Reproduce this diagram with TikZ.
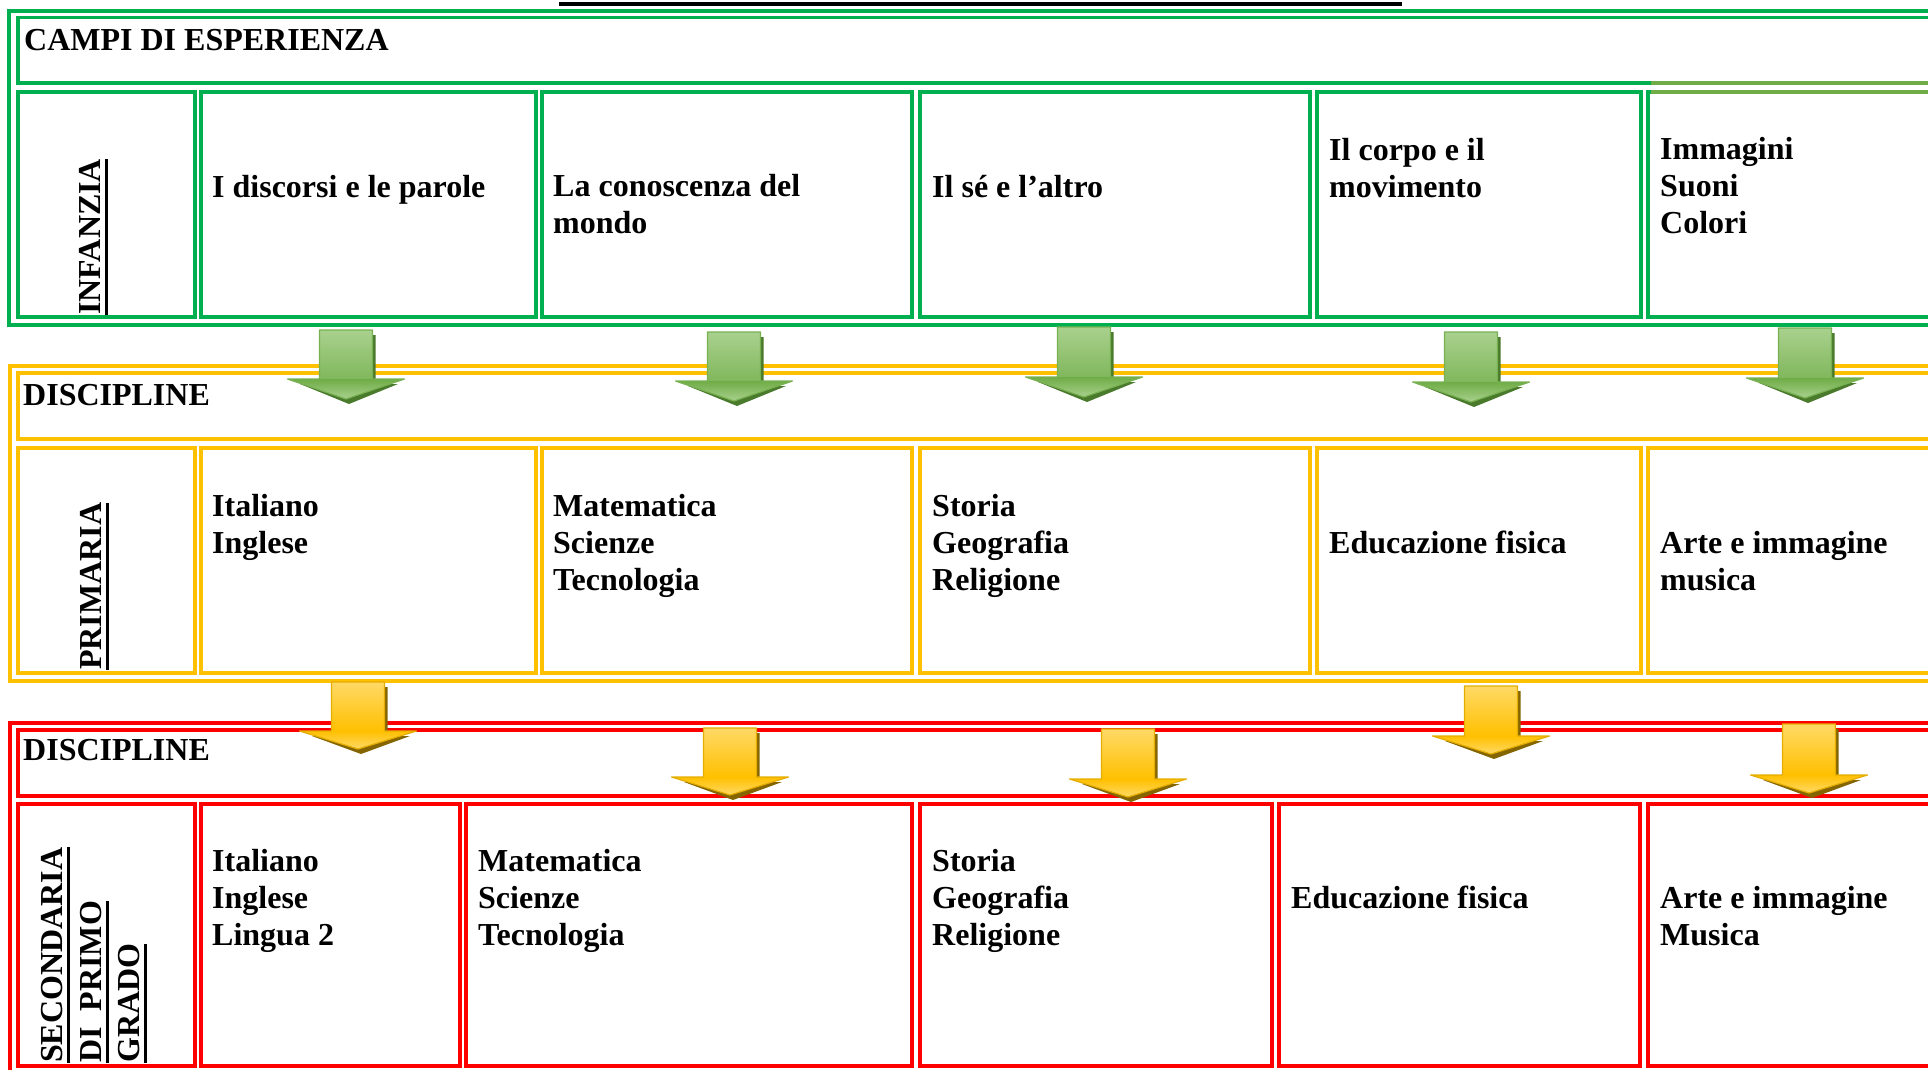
\documentclass[tikz,border=0pt]{standalone}
\usepackage{fontspec}
\setmainfont{Liberation Serif}
\usetikzlibrary{positioning}
\definecolor{Cg}{HTML}{00B050}
\definecolor{Co}{HTML}{70AD47}
\definecolor{Cy}{HTML}{FFC000}
\definecolor{Cr}{HTML}{FF0000}
\definecolor{Ag1}{HTML}{A9D18E}
\definecolor{Ag2}{HTML}{6FAC46}
\definecolor{Ag3}{HTML}{4A7A2C}
\definecolor{Ay1}{HTML}{FFD966}
\definecolor{Ay2}{HTML}{FFC000}
\definecolor{Ay3}{HTML}{846500}

\tikzset{
  box/.style={line width=3.5pt},
  lbl/.style={anchor=base west, inner sep=0pt, align=left,
    font=\fontsize{32pt}{36.7pt}\selectfont\bfseries},
  vlbl/.style={lbl, rotate=90},
  uline/.style={line width=3pt},
  gshaft/.style={top color=Ag1, middle color=Ag2, bottom color=Ag2!70!Ag1},
  ghead/.style={top color=Ag2, bottom color=Ag1},
  yshaft/.style={top color=Ay1, middle color=Ay2, bottom color=Ay2},
  yhead/.style={top color=Ay2, bottom color=Ay1},
}

\begin{document}
\begin{tikzpicture}[x=1pt, y=-1pt]

\useasboundingbox (0,0) rectangle (1928,1069);
\clip (0,0) rectangle (1928,1069);

% rule of the cut title
\draw[line width=3.5pt] (559,4) -- (1402,4);

% green section: campi di esperienza
\draw[box, Cg] (9,11) rectangle (1940,325);
\draw[box, Cg] (18,17.5) rectangle (1940,83);
\foreach \xa/\xb in {18/195, 201/536, 542/912, 920/1310, 1317/1641, 1648/1940}
  \draw[box, Cg] (\xa,92) rectangle (\xb,317);
\draw[box, Co] (1651,83) -- (1940,83);
\draw[box, Co] (1651,92) -- (1940,92);

\node[lbl] (campi) at (24,50) {CAMPI DI ESPERIENZA};
\node[vlbl] (infanzia) at (100,315) {INFANZIA};
\draw[uline] ([xshift=6pt]infanzia.base west) -- ([xshift=6pt]infanzia.base east);
\node[lbl] (discorsi) at (212,197) {I discorsi e le parole};
\node[lbl] (mondo) at (553,233) {La conoscenza del\\mondo};
\node[lbl] (altro) at (932,197) {Il sé e l’altro};
\node[lbl] (corpo) at (1329,197) {Il corpo e il\\movimento};
\node[lbl] (immagini) at (1660,233) {Immagini\\Suoni\\Colori};

% yellow section: primaria
\draw[box, Cy] (10,366) rectangle (1940,681);
\draw[box, Cy] (18,373) rectangle (1940,439);
\foreach \xa/\xb in {18/195, 201/536, 542/912, 920/1310, 1317/1641, 1648/1940}
  \draw[box, Cy] (\xa,448) rectangle (\xb,673);

\node[lbl] (disc_pri) at (23,405) {DISCIPLINE};
\node[vlbl] (primaria) at (101,670) {PRIMARIA};
\draw[uline] ([xshift=6pt]primaria.base west) -- ([xshift=6pt]primaria.base east);
\node[lbl] (ita_pri) at (212,553) {Italiano\\Inglese};
\node[lbl] (mat_pri) at (553,590) {Matematica\\Scienze\\Tecnologia};
\node[lbl] (sto_pri) at (932,590) {Storia\\Geografia\\Religione};
\node[lbl] (edu_pri) at (1329,553) {Educazione fisica};
\node[lbl] (arte_pri) at (1660,590) {Arte e immagine\\musica};

% red section: secondaria
\draw[box, Cr] (10,723) rectangle (1940,1090);
\draw[box, Cr] (18,730) rectangle (1940,796);
\foreach \xa/\xb in {18/195, 201/460, 466/912, 920/1272, 1279/1640, 1648/1940}
  \draw[box, Cr] (\xa,804) rectangle (\xb,1066);

\node[lbl] (disc_sec) at (23,760) {DISCIPLINE};
\node[vlbl] (sec1) at (62,1063) {SECONDARIA};
\node[vlbl] (sec2) at (101,1063) {DI\ \ PRIMO};
\node[vlbl] (sec3) at (139,1063) {GRADO};
\foreach \n in {sec1, sec2, sec3}
  \draw[uline] ([xshift=6pt]\n.base west) -- ([xshift=6pt]\n.base east);
\node[lbl] (ita_sec) at (212,945) {Italiano\\Inglese\\Lingua 2};
\node[lbl] (mat_sec) at (478,945) {Matematica\\Scienze\\Tecnologia};
\node[lbl] (sto_sec) at (932,945) {Storia\\Geografia\\Religione};
\node[lbl] (edu_sec) at (1291,908) {Educazione fisica};
\node[lbl] (arte_sec) at (1660,945) {Arte e immagine\\Musica};

% green arrows
\foreach \cx/\ty/\py in {346/330/399, 734/332/401, 1084/327/397, 1471/332/402, 1805/328/398}{
  \fill[Ag3] (\cx-23.5,\ty+5) -- (\cx+29.5,\ty+5) -- (\cx+29.5,\py-15) -- (\cx+52,\py-15)
    -- (\cx+3,\py+5) -- (\cx-46,\py-15) -- (\cx-23.5,\py-15) -- cycle;
  \shade[gshaft] (\cx-26.5,\ty) rectangle (\cx+26.5,\py-20);
  \shade[ghead] (\cx-58.5,\py-20) -- (\cx+58.5,\py-20) -- (\cx,\py) -- cycle;
  \draw[Ag2!85!Ag1, line width=1.2pt, line join=round] (\cx-26.5,\ty) -- (\cx+26.5,\ty) -- (\cx+26.5,\py-20)
    -- (\cx+58.5,\py-20) -- (\cx,\py) -- (\cx-58.5,\py-20) -- (\cx-26.5,\py-20) -- cycle;
}

% yellow arrows
\foreach \cx/\ty/\py in {358/682/749, 730/728/795, 1128/729/797, 1491/686/754, 1809/724/793}{
  \fill[Ay3] (\cx-23.5,\ty+5) -- (\cx+29.5,\ty+5) -- (\cx+29.5,\py-13) -- (\cx+52,\py-13)
    -- (\cx+3,\py+5) -- (\cx-46,\py-13) -- (\cx-23.5,\py-13) -- cycle;
  \shade[yshaft] (\cx-26.5,\ty) rectangle (\cx+26.5,\py-18);
  \shade[yhead] (\cx-58.5,\py-18) -- (\cx+58.5,\py-18) -- (\cx,\py) -- cycle;
  \draw[Ay2!90!black, line width=1.2pt, line join=round] (\cx-26.5,\ty) -- (\cx+26.5,\ty) -- (\cx+26.5,\py-18)
    -- (\cx+58.5,\py-18) -- (\cx,\py) -- (\cx-58.5,\py-18) -- (\cx-26.5,\py-18) -- cycle;
}

\end{tikzpicture}
\end{document}
